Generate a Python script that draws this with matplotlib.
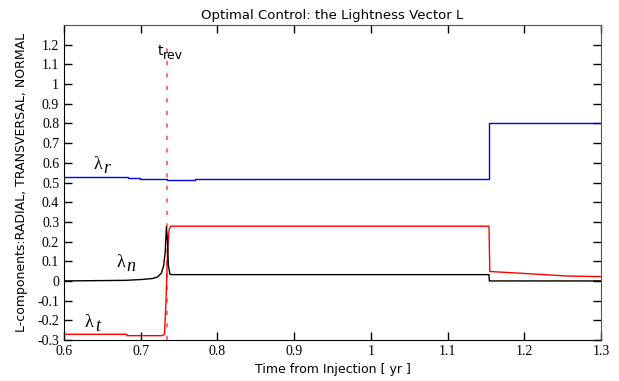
import matplotlib
matplotlib.use("Agg")
import matplotlib.pyplot as plt

# lambda_r (radial) - blue
t_r = [0.6, 0.683, 0.683, 0.699, 0.699, 0.734, 0.734, 0.771, 0.771, 1.154, 1.154, 1.3]
lam_r = [0.526, 0.526, 0.521, 0.521, 0.516, 0.516, 0.511, 0.511, 0.517, 0.517, 0.803, 0.803]

# lambda_t (transversal) - red
t_t = [0.6, 0.682, 0.682, 0.728, 0.731, 0.733, 0.735, 0.737, 0.739, 1.154, 1.155, 1.2, 1.256, 1.3]
lam_t = [-0.271, -0.271, -0.278, -0.278, -0.27, -0.1, 0.15, 0.26, 0.278, 0.278, 0.048, 0.038, 0.025, 0.022]

# lambda_n (normal) - black
t_n = [0.6, 0.68, 0.70, 0.715, 0.722, 0.727, 0.730, 0.732, 0.7335, 0.735, 0.736, 0.738, 0.74, 1.154, 1.1545, 1.3]
lam_n = [0.0, 0.003, 0.007, 0.012, 0.02, 0.04, 0.08, 0.15, 0.275, 0.2, 0.08, 0.035, 0.032, 0.032, 0.0, 0.0]

t_rev = 0.734

# curve labels: (x, y, subscript)
lab_x = [0.638, 0.668, 0.627]
lab_y = [0.568, 0.07, -0.234]
lab_sub = ["r", "n", "t"]

xticks = [0.6, 0.7, 0.8, 0.9, 1.0, 1.1, 1.2, 1.3]
xtick_labels = ["0.6", "0.7", "0.8", "0.9", "1", "1.1", "1.2", "1.3"]
yticks = [-0.3, -0.2, -0.1, 0, 0.1, 0.2, 0.3, 0.4, 0.5, 0.6, 0.7, 0.8, 0.9, 1.0, 1.1, 1.2]
ytick_labels = ["-0.3", "-0.2", "-0.1", "0", "0.1", "0.2", "0.3", "0.4", "0.5", "0.6",
                "0.7", "0.8", "0.9", "1", "1.1", "1.2"]

fig = plt.figure(figsize=(6.19, 3.81), dpi=100)
ax = fig.add_axes([64 / 619, 41 / 381, 537 / 619, 315 / 381])

ax.plot([t_rev, t_rev], [-0.3, 1.21], color="#ff7070", lw=1.5, dashes=(2, 4))
ax.plot(t_r, lam_r, color="blue", lw=1)
ax.plot(t_t, lam_t, color="red", lw=1)
ax.plot(t_n, lam_n, color="black", lw=1)

for x, y, s in zip(lab_x, lab_y, lab_sub):
    ax.text(x, y, "λ", fontsize=13, family="Liberation Serif")
    ax.annotate(s, (x, y), xytext=(7.5, -3), textcoords="offset points",
                fontsize=13, family="Liberation Serif", style="italic")

ax.annotate("t", (t_rev, 1.15), xytext=(-6.5, 0), textcoords="offset points", fontsize=10)
ax.annotate("rev", (t_rev, 1.15), xytext=(-3, -3), textcoords="offset points", fontsize=9)

ax.set_xlim(0.6, 1.3)
ax.set_ylim(-0.3, 1.3)
ax.set_xticks(xticks)
ax.set_xticklabels(xtick_labels, family="Liberation Serif", fontsize=10)
ax.set_yticks(yticks)
ax.set_yticklabels(ytick_labels, family="Liberation Serif", fontsize=10)
ax.tick_params(direction="in", length=6, top=True, right=True, width=1)

ax.set_title("Optimal Control: the Lightness Vector L", fontsize=9.5, pad=4.5)
ax.set_xlabel("Time from Injection [ yr ]", fontsize=9)
ax.set_ylabel("L-components:RADIAL, TRANSVERSAL, NORMAL", fontsize=9, labelpad=7)

for side in ["top", "right"]:
    ax.spines[side].set_color("#555555")

fig.savefig("out.png", dpi=100)
